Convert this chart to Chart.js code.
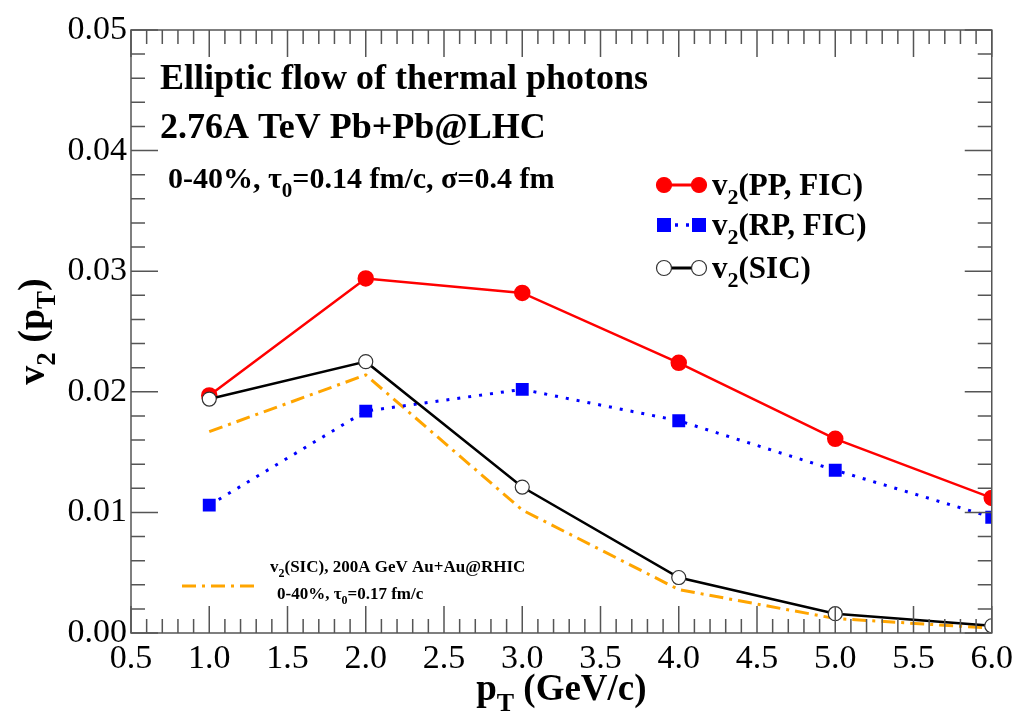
<!doctype html>
<html>
<head>
<meta charset="utf-8">
<title>Elliptic flow of thermal photons</title>
<script src="https://cdn.jsdelivr.net/npm/chart.js"></script>
<style>
  html, body { margin: 0; padding: 0; background: #fff; }
  #wrap { width: 1019px; height: 714px; position: relative; }
</style>
</head>
<body>
<div id="wrap"><canvas id="chart"></canvas></div>
<script>
// values
const pT = [1.0, 2.0, 3.0, 4.0, 5.0, 6.0]
const v2PP = [0.0197, 0.0294, 0.0282, 0.0224, 0.0161, 0.0112]
const v2RP = [0.0106, 0.0184, 0.0202, 0.0176, 0.0135, 0.0096]
const v2SIC = [0.0194, 0.0225, 0.0121, 0.0046, 0.0016, 0.0006]
const v2RHIC = [0.0167, 0.0214, 0.0102, 0.0036, 0.0012, 0.0004]

const xMin = 0.5, xMax = 6.0, xMajor = 0.5
const yMin = 0, yMax = 0.05, yMajor = 0.01

const toPts = (ys) => pT.map((x, i) => ({ x, y: ys[i] }))
const isMajor = (v, step) => Math.abs(v / step - Math.round(v / step)) < 1e-6

const SERIF = '"Liberation Serif", "DejaVu Serif", serif'

// text with subscripts: parts = [[text, isSub], ...]
function richWidth(ctx, parts, size) {
  let w = 0
  parts.forEach(([t, sub]) => {
    ctx.font = 'bold ' + (sub ? Math.round(size * 0.7) : size) + 'px ' + SERIF
    w += ctx.measureText(t).width
  })
  return w
}
function drawRich(ctx, parts, x, y, size, align) {
  let cx = x
  if (align === 'center') cx = x - richWidth(ctx, parts, size) / 2
  ctx.textBaseline = 'alphabetic'
  ctx.textAlign = 'left'
  parts.forEach(([t, sub]) => {
    ctx.font = 'bold ' + (sub ? Math.round(size * 0.7) : size) + 'px ' + SERIF
    ctx.fillText(t, cx, sub ? y + size * 0.3 : y)
    cx += ctx.measureText(t).width
  })
}

const frame = {
  id: 'frame',
  afterDraw(chart) {
    const { ctx, chartArea: a } = chart
    const xs = chart.scales.x, ys = chart.scales.y
    const ds = chart.data.datasets
    ctx.save()
    ctx.strokeStyle = '#555'
    ctx.lineWidth = 1.5
    ctx.strokeRect(a.left, a.top, a.right - a.left, a.bottom - a.top)
    ctx.beginPath()
    xs.ticks.forEach((t) => {
      const px = xs.getPixelForValue(t.value)
      const len = isMajor(t.value, xMajor) ? 27 : 14
      ctx.moveTo(px, a.bottom); ctx.lineTo(px, a.bottom - len)
      ctx.moveTo(px, a.top); ctx.lineTo(px, a.top + len)
    })
    ys.ticks.forEach((t) => {
      const py = ys.getPixelForValue(t.value)
      const len = isMajor(t.value, yMajor) ? 27 : 14
      ctx.moveTo(a.left, py); ctx.lineTo(a.left + len, py)
      ctx.moveTo(a.right, py); ctx.lineTo(a.right - len, py)
    })
    ctx.stroke()

    ctx.fillStyle = '#000'
    // axis titles
    drawRich(ctx, [['p', false], ['T', true], [' (GeV/c)', false]], (a.left + a.right) / 2, 700, 37, 'center')
    ctx.save()
    ctx.translate(44, (a.top + a.bottom) / 2)
    ctx.rotate(-Math.PI / 2)
    drawRich(ctx, [['v', false], ['2', true], [' (p', false], ['T', true], [')', false]], 0, 0, 38, 'center')
    ctx.restore()

    // headings
    drawRich(ctx, [['Elliptic flow of thermal photons', false]], 160, 89, 36)
    drawRich(ctx, [['2.76A TeV Pb+Pb@LHC', false]], 160, 138, 36)
    drawRich(ctx, [['0-40%, \u03c4', false], ['0', true], ['=0.14 fm/c, \u03c3=0.4 fm', false]], 168, 188, 30)

    // legend
    const legend = [
      { y: 185, d: ds[0], label: [['v', false], ['2', true], ['(PP, FIC)', false]] },
      { y: 225, d: ds[1], label: [['v', false], ['2', true], ['(RP, FIC)', false]] },
      { y: 268, d: ds[2], label: [['v', false], ['2', true], ['(SIC)', false]] },
    ]
    legend.forEach((e) => {
      const d = e.d
      ctx.save()
      ctx.strokeStyle = d.borderColor
      ctx.lineWidth = d.borderWidth + 0.5
      ctx.setLineDash(d.borderDash || [])
      ctx.beginPath(); ctx.moveTo(664, e.y); ctx.lineTo(699, e.y); ctx.stroke()
      ctx.setLineDash([])
      ;[664, 699].forEach((px) => {
        ctx.fillStyle = d.pointBackgroundColor
        ctx.strokeStyle = d.pointBorderColor
        ctx.lineWidth = 1.2
        if (d.pointStyle === 'rect') {
          ctx.fillRect(px - 7, e.y - 7, 14, 14)
        } else {
          ctx.beginPath(); ctx.arc(px, e.y, 7.5, 0, Math.PI * 2); ctx.fill(); ctx.stroke()
        }
      })
      ctx.restore()
      drawRich(ctx, e.label, 712, e.y + 10, 31)
    })

    // RHIC legend
    const r = ds[3]
    ctx.save()
    ctx.strokeStyle = r.borderColor
    ctx.lineWidth = r.borderWidth
    ctx.setLineDash(r.borderDash || [])
    ctx.beginPath(); ctx.moveTo(182, 586); ctx.lineTo(258, 586); ctx.stroke()
    ctx.restore()
    drawRich(ctx, [['v', false], ['2', true], ['(SIC), 200A GeV Au+Au@RHIC', false]], 270, 572, 17)
    drawRich(ctx, [['0-40%, \u03c4', false], ['0', true], ['=0.17 fm/c', false]], 277, 599, 17)
    ctx.restore()
  },
}

new Chart(document.getElementById('chart'), {
  type: 'line',
  data: {
    datasets: [
      {
        label: 'v2(PP, FIC)', data: toPts(v2PP), order: 1,
        borderColor: '#ff0000', borderWidth: 2.5,
        pointStyle: 'circle', pointRadius: 7,
        pointBackgroundColor: '#ff0000', pointBorderColor: '#ff0000',
      },
      {
        label: 'v2(RP, FIC)', data: toPts(v2RP), order: 2,
        borderColor: '#0000ff', borderWidth: 3, borderDash: [3, 8],
        pointStyle: 'rect', pointRadius: 7,
        pointBackgroundColor: '#0000ff', pointBorderColor: '#0000ff',
      },
      {
        label: 'v2(SIC)', data: toPts(v2SIC), order: 0,
        borderColor: '#000000', borderWidth: 2.5,
        pointStyle: 'circle', pointRadius: 7, pointBorderWidth: 1.2,
        pointBackgroundColor: '#ffffff', pointBorderColor: '#333333',
      },
      {
        label: 'v2(SIC) RHIC', data: toPts(v2RHIC), order: 3,
        borderColor: '#ffa500', borderWidth: 3, borderDash: [14, 6, 3, 6],
        pointRadius: 0,
      },
    ],
  },
  options: {
    responsive: true,
    maintainAspectRatio: false,
    animation: false,
    layout: { padding: { top: 30, right: 26, left: 0, bottom: 0 } },
    plugins: { legend: { display: false }, tooltip: { enabled: false } },
    scales: {
      x: {
        type: 'linear', min: xMin, max: xMax,
        afterFit: (s) => { s.height = 81 },
        grid: { display: false, drawTicks: false },
        border: { display: false },
        ticks: {
          stepSize: 0.1, autoSkip: false, maxRotation: 0, padding: 6,
          color: '#000', font: { family: SERIF, size: 34 },
          callback: (v) => (isMajor(v, xMajor) ? v.toFixed(1) : ''),
        },
      },
      y: {
        min: yMin, max: yMax,
        afterFit: (s) => { s.width = 131 },
        grid: { display: false, drawTicks: false },
        border: { display: false },
        ticks: {
          stepSize: 0.002, autoSkip: false, padding: 4,
          color: '#000', font: { family: SERIF, size: 34 },
          callback: (v) => (isMajor(v, yMajor) ? v.toFixed(2) : ''),
        },
      },
    },
  },
  plugins: [frame],
})
</script>
</body>
</html>
